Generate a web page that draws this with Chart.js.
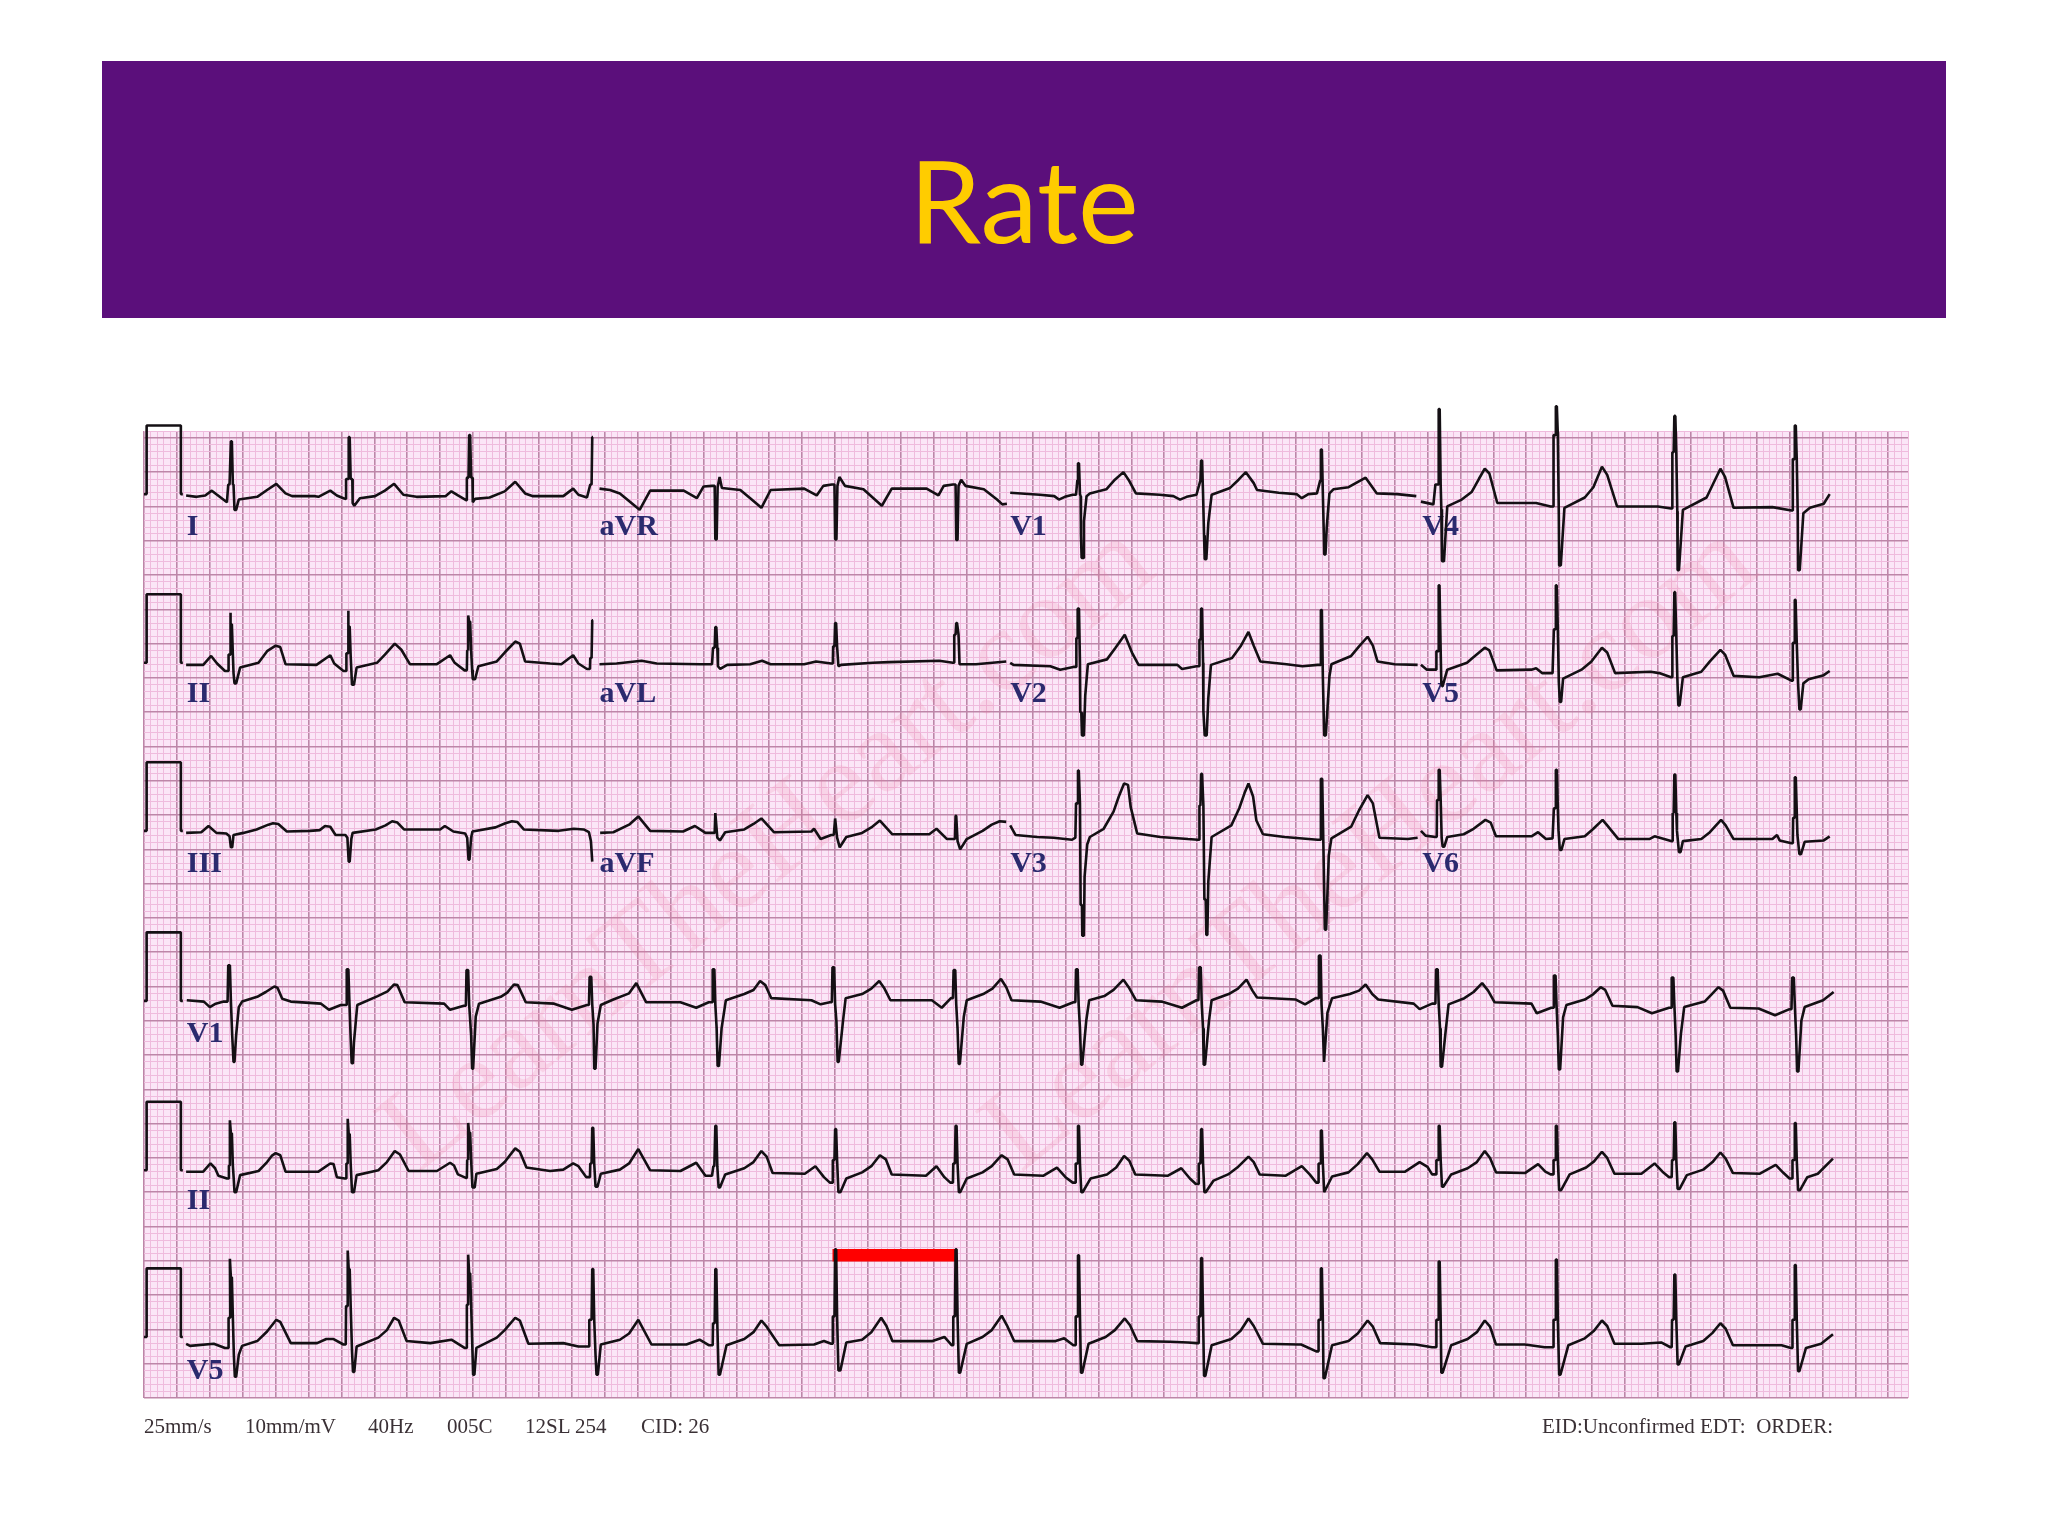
<!DOCTYPE html>
<html><head><meta charset="utf-8">
<script src="https://cdn.jsdelivr.net/npm/chart.js@4"></script>
<style>
html,body{margin:0;padding:0;background:#fff;width:2048px;height:1536px;overflow:hidden}
#band{position:absolute;left:102px;top:61px;width:1844px;height:257px;background:#5b0f7b}
#title{position:absolute;left:102px;width:1844px;top:131px;text-align:center;font:115px/134px Lato,sans-serif;color:#ffcc00}
#chart{position:absolute;left:0;top:0;filter:blur(.45px)}
.ft{position:absolute;top:1414px;font:21px/24px "Liberation Serif",serif;color:#3a3035;white-space:pre}
</style></head><body>
<div id="band"></div><div id="title">Rate</div>
<canvas id="chart" width="2048" height="1536"></canvas>
<div class="ft" style="left:144px">25mm/s</div><div class="ft" style="left:245px">10mm/mV</div><div class="ft" style="left:368px">40Hz</div><div class="ft" style="left:447px">005C</div><div class="ft" style="left:525px">12SL 254</div><div class="ft" style="left:641px">CID: 26</div><div class="ft" style="left:1542px">EID:Unconfirmed EDT:  ORDER:</div>
<script>
// Paper units: millimetres (1 mm = 40 ms horizontally, 0.1 mV vertically).
// Every beat: [R time, dt,amplitude, dt,amplitude, ...] in mm.
const leadI=[
[13.2,-6.8,-.2,-5.2,-.4,-3.9,-.2,-2.9,.5,-2.1,-.1,-.6,-1.2,-.4,1.4,-.2,1.4,0,7.7,.15,7.7,.3,1.4,.4,1.4,.55,-2.3,.8,-2.3,1.2,-.8,4,-.4,5.5,.6,6.9,1.5,8.3,.1,9.3,-.3,12.8,-.3],
[31.1,-4.6,-.4,-2.8,.5,-1.8,-.2,-.8,-.6,-.4,-.7,-.4,2.2,-.1,2.2,0,8.3,.15,8.3,.3,2.2,.55,2.2,.6,-1.3,.85,-1.7,1.7,-.6,4,-.3,5.5,.5,6.9,1.5,8.3,-.1,10.3,-.4,14.7,-.3],
[49.4,-2.7,.4,-1.7,-.2,-.6,-.8,-.4,-.9,-.35,2.4,-.1,2.4,0,8.6,.15,8.6,.3,2.4,.5,2.4,.55,-1.2,.9,-.7,3.1,-.5,5.4,.4,7,1.8,8.5,.1,9.7,-.3,14.3,-.3],
[68.1,-2.9,.8,-2.1,-.1,-.8,-.5,-.3,1.4,-.1,1.4,0,8.3,.12,8.3]];
const leadAVR=[
[86.8,-17.6,.8,-16,.6,-14.5,.1,-11.5,-2.3,-9.9,.5,-4.8,.5,-2.8,-.6,-1.8,1.1,-.5,1.2,-.1,1.2,0,-6.6,.2,-6.6,.35,1,.65,2.5,1,.9,3.8,.6,5.3,-.6,7,-2,8.4,.6,13.5,.8],
[105,-2.8,-.2,-1.8,1.2,-.5,1.4,-.1,1.4,0,-6.6,.2,-6.6,.35,1.2,.65,2.5,1.5,1.2,4.3,.7,7.1,-1.7,8.6,.8,13.9,.8],
[123.4,-2.7,-.2,-1.9,1.2,-.5,1.4,-.1,1.4,0,-6.7,.2,-6.7,.35,1.2,.75,2.1,1.4,1.2,4.2,.7,6.2,-.8,7,-1.5,7.7,-1.4]];
const leadV1=[
[141.9,-10.3,.2,-5.8,-.1,-3.6,-.3,-2.9,-.8,-2,-.4,-.8,-.1,-.3,-.1,-.1,2,0,4.5,.15,4.5,.3,0,.4,-.3,.45,-6,.55,-9.3,.8,-9.3,.9,-4,1.3,-.3,1.8,.1,4.3,.7,5.6,2.1,6.9,3.2,7.8,1.9,8.8,.1,12.4,-.1],
[160.6,-4.2,-.3,-3.2,-.8,-2.2,-.4,-.7,-.1,-.1,2,0,4.9,.15,4.9,.3,0,.45,-6,.55,-9.5,.8,-9.5,1.1,-4.2,1.6,-.1,4.4,.9,5.7,2.1,6.8,3.2,8,1.6,8.5,.6,11.8,.2],
[178.8,-3.7,0,-2.9,-.6,-1.9,0,-.6,.1,-.1,2,0,6.5,.15,6.5,.3,.1,.45,-6,.5,-8.8,.7,-8.8,.9,-4.7,1.3,.1,1.9,.7,4.2,1,6.8,2.4,8.5,.1,11.6,0,14.5,-.3]];
const leadV4=[
[196.7,-2.7,-1.1,-.8,-1.5,-.5,1.4,-.1,1.4,0,12.4,.15,12.4,.3,1.4,.4,-2.2,.5,-9.8,.8,-9.8,1.3,-1.8,3.5,-.8,5,.3,6.1,2.2,7,3.7,7.7,3,8.9,-1.3,14.8,-1.3],
[214.5,-.8,-1.8,-.4,-1.8,-.35,8.6,-.1,8.6,0,12.8,.15,12.8,.3,8.6,.45,-3,.5,-10.4,.75,-10.4,1.3,-2,4.4,-.5,5.7,1,7,4,7.8,2.8,9.3,-1.8,15.5,-1.8],
[232.5,-.5,-2.1,-.35,-2.1,-.3,6.1,-.1,6.1,0,11.4,.15,11.4,.3,6,.45,-2.5,.5,-11.1,.7,-11.1,1.3,-2.3,4.9,-.5,5.9,1.5,7,3.7,7.7,2.5,9,-2,14.9,-1.9],
[250.8,-.5,-2.4,-.35,-2.4,-.3,5.1,-.1,5.1,0,10,.15,10,.3,5,.45,-3,.5,-11.1,.75,-11.1,1.3,-2.8,2.3,-2,4.4,-1.4,5.3,0]];
const leadII=[
[13.2,-6.8,-.3,-4.2,-.3,-3,1,-2.1,-.1,-.9,-1.2,-.4,-1.2,-.35,1.2,-.1,1.2,-.1,7.3,0,5.6,.15,5.6,.3,1.2,.4,-1.5,.55,-3,.8,-3,1.4,-.7,4.2,0,5.5,1.7,6.8,2.5,7.5,2.3,8.3,-.2,13,-.3],
[31.1,-2.8,1.1,-2.2,-.1,-.8,-1.2,-.4,-1.2,-.35,1.4,-.1,1.4,-.1,7.6,0,5.3,.15,5.3,.3,1,.5,-3.2,.8,-3.2,1.2,-.7,4.3,0,5.5,1.2,7,2.8,8,1.9,9.3,-.2,13.4,-.2],
[49.4,-2.9,1.1,-2.2,0,-.7,-1.1,-.35,-1.1,-.3,1.8,-.1,1.8,-.15,6.9,0,6,.15,6,.3,1.8,.45,-1,.55,-2.4,.9,-2.4,1.4,-.5,4.2,.2,5.4,1.5,7,3.1,7.7,2.8,8.5,.2,12.3,-.1],
[68.1,-4.7,-.2,-2.9,1.1,-2.1,-.1,-.8,-.9,-.35,-.9,-.3,.7,-.1,.7,0,6.2,.12,6.2]];
const leadAVL=[
[86.8,-17.6,-.2,-15,-.1,-11.2,.3,-8.9,-.1,-2.3,-.2,-.5,-.2,-.35,2.2,-.1,2.2,0,5.2,.15,5.2,.3,2.2,.4,-.5,.75,-.9,1.8,-.3,5.3,-.2,7.1,.3,8.4,-.2,13.5,-.2],
[105,-2.9,.2,-.6,-.1,-.35,-.1,-.3,2.4,-.1,2.4,0,5.8,.15,5.8,.3,2.4,.5,-.5,.9,-.3,5.7,0,8.2,.1,15.8,.3],
[123.4,-.5,0,-.3,0,-.3,4.1,-.1,4.1,0,5.8,.12,5.8,.35,4.1,.5,-.2,3,-.2,7.6,.2]];
const leadV2=[
[141.9,-10.3,0,-9.8,-.3,-4.2,-.5,-2.7,-1,-.7,-.6,-.3,-.6,-.25,3.6,-.1,3.6,-.05,7.9,.15,7.9,.3,0,.35,-7.2,.5,-7.2,.6,-10.6,.9,-10.6,1.1,-4.8,1.5,-.2,4.4,.5,5.7,2.2,7.1,4.1,8.2,1.5,9.2,-.3,15.1,-.3],
[160.6,-2.9,-.9,-.7,-.5,-.3,-.5,-.25,3.4,-.05,3.4,0,7.9,.15,7.9,.3,0,.35,-7,.55,-10.6,.85,-10.6,1.1,-5.1,1.5,-.3,4.7,.7,6,2.4,7.2,4.5,8,2.5,9,.2,13,-.2],
[178.8,-2.8,-.5,-.5,-.3,-.1,-.3,0,7.7,.15,7.7,.3,-2,.5,-10.6,.75,-10.6,1.3,-2,1.6,-.2,4.6,1,5.8,2.4,7.1,3.8,7.9,2.5,8.6,.2,11.2,-.2,14.7,-.3]];
const leadV5=[
[196.7,-2.7,-.3,-1.8,-1,-.8,-1,-.4,-1,-.35,1.7,-.1,1.7,0,11.3,.12,11.3,.3,1.7,.4,-3,.5,-3.4,.6,-3.4,1.3,-1,4.3,0,5,.6,7,2.2,7.7,1.8,8.8,-1.1,14.1,-1,14.8,-.8],
[214.5,-2.1,-1.5,-.5,-1.5,-.3,4.9,-.1,4.9,0,11.3,.12,11.3,.3,4.9,.45,-2.8,.6,-5.7,.8,-5.7,1.1,-2.3,3.9,-1,5.4,.2,7,2.2,7.8,1.5,9,-1.5,14.4,-1.3],
[232.5,-2.3,-1.5,-.5,-2.1,-.3,-2.1,-.3,3.9,-.1,3.9,0,10.3,.12,10.3,.3,3.9,.45,-2,.6,-6.2,.8,-6.2,1.3,-2.1,4.1,-1.3,5.4,.2,7,1.9,7.7,1.2,9,-1.9,12.9,-2.1],
[250.8,-2.6,-1.6,-.5,-2.6,-.3,-2.6,-.3,2.9,-.1,2.9,0,9.2,.12,9.2,.3,2.9,.5,-3,.7,-6.8,.9,-6.8,1.3,-3,2.1,-2.4,4.4,-1.8,5.3,-1.2]];
const leadIII=[
[13.2,-6.8,-.3,-4.5,-.2,-3.4,.7,-2.2,-.3,-.7,-.4,-.2,-.8,0,-2.4,.2,-2.4,.4,-.6,1.9,-.3,3.9,.2,5.7,.9,6.4,1.1,7.2,1,8.5,-.1,12,0],
[31.1,-4.4,.1,-3.6,.7,-2.8,.6,-2,-.6,-.5,-.6,-.2,-1,0,-4.5,.15,-4.5,.4,-1.2,.6,-.3,4.1,.2,5.6,.8,6.6,1.4,7.4,1.2,8.4,.2,11.7,.2],
[49.3,-4.3,.2,-3.6,.7,-2.3,-.1,-.5,-.4,-.2,-1,0,-4.2,.15,-4.2,.4,-1,.6,-.1,4.1,.5,5.6,1.1,6.6,1.4,7.4,1.3,8.4,.2,13.7,0],
[68.1,-2.8,.3,-1.3,.2,-.5,-.2,-.2,-1.5,0,-4.5]];
const leadAVF=[
[86.8,-17.5,-.3,-15.5,-.2,-13.1,.9,-11.7,2.1,-9.9,0,-4.9,-.1,-3.1,.7,-1.5,-.3,-.5,-.3,-.1,-.3,0,2.6,.1,2.6,.3,-1,.7,-1.4,1.5,-.2,4.4,.2,5.8,1,7,1.8,8.9,-.2,14.6,-.1],
[105,-3.2,.3,-2.2,-1.2,-.6,-.6,-.2,-.6,0,1.8,.1,1.8,.3,-1,.7,-2.4,1.7,-.9,4.1,-.3,5.5,.5,6.8,1.5,8.7,-.5,14.3,-.5],
[123.3,-2.9,.3,-1.3,-1.2,-.6,-1.2,-.1,-1.2,0,2.2,.1,2.2,.3,-1.5,.7,-2.7,1.7,-1.2,4.1,0,5.5,.9,6.7,1.4,7.7,1.3]];
const leadV3=[
[141.9,-10.3,.8,-9.5,-.6,-6.2,-.9,-3.7,-1,-.9,-1.3,-.4,-1,-.3,4,-.1,4,0,8.8,.12,8.8,.3,4,.4,-10.8,.6,-10.8,.65,-15.3,.9,-15.3,1,-6.7,1.4,-2,1.8,-.9,3.9,.3,5.4,2.8,6.2,5,7,6.9,7.6,6.7,8,3.5,9,-.4,12.5,-.9],
[160.6,-2,-1.2,-.5,-1.3,-.3,-1.3,-.25,3.7,-.1,3.7,0,8.3,.15,8.3,.35,3.7,.5,-10,.7,-10,.8,-15.2,.95,-15.2,1.1,-7.4,1.6,-.9,4.6,.8,5.8,3.3,6.6,5.5,7.2,6.9,7.9,5,8.4,1.5,9.4,-.5,12.7,-.9],
[178.8,-.5,-1.3,-.1,-1.3,0,7.6,.2,7.6,.4,-3,.6,-14.4,.8,-14.4,1.2,-3.6,1.6,-1.1,4.6,.6,5.8,3,7.1,5.2,7.9,4,8.9,-1,13.2,-1.2,14.7,-1]];
const leadV6=[
[196.7,-2.7,0,-2,-.7,-.5,-.9,-.3,-.9,-.25,4.5,-.1,4.5,0,8.9,.15,8.9,.3,4.5,.45,-1,.6,-2.3,.85,-2.3,1.3,-.9,3.8,-.5,5.3,.3,7.1,1.6,7.9,1.2,8.7,-.8,14.1,-.8,15.1,-.2],
[214.5,-1.5,-1.2,-.5,-1.1,-.3,3.3,-.1,3.3,0,8.9,.15,8.9,.3,3.3,.4,.1,.6,-2.8,.85,-2.8,1.3,-1.2,4.4,-.8,5.7,.3,7.1,1.6,7.8,.8,9.5,-1.2,14.2,-1.2,15,-.8],
[232.5,-.5,-1.5,-.3,-1.5,-.25,2.6,-.1,2.6,0,8.2,.15,8.2,.3,2.6,.4,0,.7,-3.1,.95,-3.1,1.3,-1.5,4.1,-1.2,5.4,-.2,7.1,1.6,7.8,.8,9,-1.2,14.9,-1.2,15.6,-.6],
[250.8,-2.3,-1.4,-.5,-1.8,-.3,-1.8,-.25,1.9,-.1,1.9,0,7.8,.15,7.8,.4,-.6,.7,-3.4,.95,-3.4,1.5,-1.6,4.4,-1.4,5.3,-.8]];
const rhythmV1=[
[12.9,-6.4,.1,-3.8,-.1,-2.9,-.9,-2,-.4,-.8,-.1,-.2,-.1,-.1,5.2,.15,5.2,.3,0,.5,-5,.7,-8.9,.85,-8.9,1.1,-5,1.5,-.9,2,-.1,4.3,.6,5.6,1.3,6.9,2.1,7.4,1.9,8.1,.3,9.4,-.1,14,-.4],
[30.9,-2.8,-1.3,-1,-.6,-.2,-.6,-.1,4.6,.15,4.6,.3,0,.5,-5.5,.65,-9.1,.85,-9.1,1,-6,1.5,-.6,4.6,.7,6.1,1.4,7.1,2.4,7.6,2.3,8.7,-.2,14.7,-.4],
[49.1,-2.6,-1.3,-.5,-.7,-.2,-.7,-.1,4.5,.15,4.5,.3,-.5,.6,-5,.75,-9.9,.9,-9.9,1.3,-2.3,1.8,-.4,5.1,.6,6.1,1.2,7.1,2.4,7.7,2.3,8.9,-.2,13.2,-.4],
[67.8,-2.8,-1.3,-.5,-.6,-.2,-.6,-.1,3.5,.15,3.5,.3,-.5,.5,-3.5,.6,-9.9,.8,-9.9,1.1,-3.3,1.6,-.6],
[86.5,-15.2,.2,-12.8,1.1,-11.7,2.6,-10.2,-.2,-5,-.2,-2.6,-1,-.7,-.2,-.2,-.2,-.1,4.6,.15,4.6,.3,-.5,.5,-4,.65,-9.5,.85,-9.5,1.25,-4,1.9,.1,4.7,1,6.1,1.6,7.1,2.9,7.9,2.3,8.8,.4,14.9,.1],
[104.7,-1.9,-.5,-.5,-.2,-.2,-.2,-.1,4.9,.15,4.9,.3,-.5,.5,-3,.68,-8.9,.85,-8.9,1.5,-2.9,1.9,.4,4.4,1,5.8,1.8,7,2.9,7.8,1.8,8.7,.1,15,.1],
[123.1,-1.9,-1,-.5,.4,-.2,.4,-.1,4.5,.15,4.5,.3,-.5,.5,-4,.68,-9.2,.85,-9.2,1.45,-2.3,1.9,.1,4.4,1,5.8,1.8,7.1,3.2,7.9,2,8.7,.1,13.1,-.1],
[141.7,-2.6,-1,-.5,-.2,-.2,-.2,-.1,4.6,.15,4.6,.3,-.5,.5,-4,.68,-9.3,.85,-9.3,1.45,-2.9,1.9,.1,4.2,.7,5.6,1.6,7.1,3.1,7.9,2,9,.1,12.9,-.1],
[160.4,-2.7,-1,-.5,.1,-.2,.1,-.1,4.9,.15,4.9,.3,-.5,.5,-4,.6,-9.3,.8,-9.3,1.4,-2.9,1.8,.1,4.4,1,5.8,1.8,7.1,3.1,8,1.5,8.7,.5,14.6,.2],
[178.6,-2.2,-.5,-.6,.4,-.2,.4,-.1,6.6,.15,6.6,.3,-.5,.5,-4,.68,-8.9,.8,-8.9,1.2,-1.7,1.9,.4,4.6,1,6,1.5,7,2.4,8,1,8.9,.2,14.3,-.4],
[196.4,-2.6,-1.2,-.7,-.4,-.2,-.4,-.1,4.6,.15,4.6,.3,-.5,.5,-4,.6,-9.6,.8,-9.6,1.3,-4.9,1.8,-.5,4.2,.4,5.6,1.3,6.9,2.6,7.8,1.5,8.8,-.2,14.4,-.4],
[214.3,-2.7,-1.8,-.5,-1,-.2,-1,-.1,3.7,.15,3.7,.3,-.5,.5,-5,.65,-10,.85,-10,1.3,-2.4,1.8,-.6,4.6,.2,5.9,1,7,2,7.7,1.6,8.8,-.7,12.6,-.9],
[232.2,-3.1,-1.8,-.5,-1,-.2,-1,-.1,3.4,.15,3.4,.3,-.5,.5,-5,.65,-10.3,.85,-10.3,1.3,-4.8,1.8,-.9,4.9,-.1,6,1,7,2,7.7,1.5,8.8,-1,13.1,-1.1],
[250.5,-2.7,-2.1,-.5,-1.2,-.2,-1.2,-.1,3.4,.15,3.4,.3,-.5,.5,-5,.65,-10.3,.85,-10.3,1.3,-2.9,1.8,-.9,4.6,.1,6.2,1.3]];
const rhythmII=[
[13.2,-6.8,-.2,-4.2,-.2,-3.1,1,-2.4,.3,-1.9,-.8,-.6,-1.2,-.35,-1.2,-.3,.7,-.15,.7,-.15,7.3,0,5.4,.15,5.4,.3,.7,.45,-1.5,.55,-3.2,.8,-3.2,1.4,-.7,4.2,-.1,5.5,1.2,6.2,2.1,6.8,2.5,7.5,2.2,8.3,-.2,13.3,-.2],
[31.1,-2.8,1,-2.3,.9,-1.8,-1,-.6,-1.2,-.4,-1.2,-.35,1,-.15,1,-.15,7.5,0,5.3,.15,5.3,.3,1,.5,-3.2,.8,-3.2,1.2,-.7,4.5,0,5.8,1.2,7,2.8,7.8,2.3,9.1,-.1,13.4,-.1],
[49.4,-2.9,1.1,-2.3,.7,-1.7,-.6,-.5,-1.1,-.35,-1.1,-.3,1.5,-.1,1.5,-.15,6.9,0,5.5,.15,5.5,.3,1.5,.5,-2.5,.85,-2.5,1.1,-.5,4.2,.2,5.4,1.2,7,3.2,7.7,2.7,8.7,.4,12.3,-.1],
[68.1,-4.4,.1,-2.9,1,-2.1,.6,-.9,-1,-.35,-1,-.3,1,-.1,1,0,6.2,.15,6.2,.3,1,.5,-2.4,.8,-2.4,1.3,-.5,4.2,.1],
[86.8,-13.1,1,-11.7,3.1,-9.9,0,-5.3,-.1,-2.9,1.1,-1.5,-.8,-.5,-.8,-.3,.6,-.15,.6,0,6.5,.15,6.5,.3,.6,.5,-2.5,.7,-2.5,1.5,-.6,4.4,.3,5.8,1.2,7,2.8,7.8,2,8.7,-.4,13.6,-.5],
[105,-3,.6,-1.7,-1,-.8,-1.8,-.4,-1.8,-.35,1.5,-.1,1.5,0,6,.15,6,.3,1.5,.5,-3.2,.8,-3.2,1.7,-1.2,4.1,-.3,5.5,.6,6.8,2.2,7.7,1.6,8.6,-.6,13.8,-.8],
[123.3,-2.9,.6,-1.7,-1,-.8,-1.8,-.4,-1.8,-.35,1,-.1,1,0,6.5,.15,6.5,.3,1,.5,-3.2,.7,-3.2,1.7,-1.2,4.1,-.3,5.5,.6,7,2.2,7.9,1.6,8.9,-.6,13.3,-.8],
[141.9,-3.2,.4,-1.9,-1,-.8,-1.8,-.4,-1.8,-.35,1,-.1,1,0,6.5,.15,6.5,.3,1,.5,-3.2,.7,-3.2,1.9,-1.2,4.4,-.6,5.8,.4,7,2.1,7.8,1.4,8.7,-.6,13.6,-.8],
[160.6,-3,.3,-1.7,-1.2,-.8,-2,-.4,-2,-.35,1,-.1,1,0,6,.15,6,.3,1,.5,-3.2,.7,-3.2,1.9,-1.5,4.1,-.6,5.5,.4,7.2,2,8,1.2,8.9,-.6,12.8,-.8],
[178.8,-2.9,.6,-1.7,-.6,-.7,-1.8,-.4,-1.8,-.35,1,-.1,1,0,5.8,.15,5.8,.3,1,.5,-3.2,.6,-3.2,1.7,-.9,4.2,-.3,5.6,.9,7,2.5,7.8,1.6,8.9,-.2,12.8,-.2],
[196.7,-2.9,1.2,-1.7,.5,-1,-.6,-.4,-.6,-.35,1.5,-.1,1.5,0,6.5,.15,6.5,.3,1.5,.5,-2.4,.7,-2.4,1.9,-.6,4.4,.3,5.8,1.2,7,2.8,7.8,1.8,8.7,-.3,13.1,-.4],
[214.5,-2.7,.9,-1.6,-.2,-.8,-.6,-.4,-.6,-.35,1.5,-.1,1.5,0,6.5,.15,6.5,.3,1.5,.5,-2.9,.8,-2.9,2.1,-.6,4.6,.4,5.8,1.3,7,2.7,7.8,1.8,8.9,-.5,13,-.5],
[232.5,-3,1,-1.8,-.2,-.8,-1,-.4,-1,-.35,1.5,-.1,1.5,0,7,.15,7,.3,1.5,.5,-2.7,.8,-2.7,1.9,-.7,4.4,.1,5.8,1.2,7,2.6,7.8,1.7,8.9,-.4,13,-.5],
[250.8,-2.9,.8,-1.7,-.4,-.8,-1.2,-.4,-1.2,-.35,1.5,-.1,1.5,0,6.9,.15,6.9,.3,1.5,.5,-2.9,.8,-2.9,1.9,-1,3.5,-.5,5.8,1.7]];
const rhythmV5=[
[13.2,-6.8,-1,-6.2,-1.3,-2.6,-1,-.9,-1.6,-.4,-1.6,-.35,2.8,-.1,2.8,-.15,11.4,0,8.7,.15,8.7,.3,2.8,.45,-2.6,.6,-5.8,.8,-5.8,1.2,-2.6,1.7,-1.3,4,-.6,5.5,.8,6.9,2.5,7.5,2.2,9.1,-.9,13.1,-.9],
[31.1,-3.4,-.3,-2.3,-.3,-.8,-1.1,-.45,-1.1,-.4,4.5,-.15,4.5,-.15,12.6,0,9.9,.15,9.9,.3,4.5,.5,-2,.65,-5.1,.85,-5.1,1.2,-1.4,4.5,-.1,5.8,1,6.9,2.8,7.6,2.4,8.8,-.6,12.4,-.9],
[49.4,-2.7,-.4,-.7,-1.6,-.4,-1.6,-.35,4.7,-.15,4.7,-.15,12,0,9.3,.15,9.3,.3,4.7,.5,-2,.6,-5.5,.8,-5.5,1.1,-1.6,4.2,-.1,5.4,1,7,2.8,7.7,2.4,9,-1,14.3,-.9],
[68.1,-2.1,-1.4,-.45,-1.4,-.45,2.5,-.1,2.5,0,9.9,.15,9.9,.3,2.5,.5,-2.6,.65,-5.5,.85,-5.5,1.3,-1.1,4.2,-.4],
[86.8,-13.1,.5,-11.7,2.5,-9.7,-1.1,-4.4,-1.1,-2.4,-.4,-1,-1.2,-.4,-1.2,-.35,2,-.1,2,0,9.9,.15,9.9,.3,2,.5,-5.5,.7,-5.5,1.7,-1.2,4.4,-.3,5.8,.7,7,2.4,7.8,1.5,9.7,-1.2,15,-1.1],
[105,-1.7,-.6,-.6,-1,-.35,-1,-.35,3,-.1,3,0,12.8,.15,12.8,.3,3,.5,-4.9,.8,-4.9,1.7,-.8,4.1,-.4,5.5,.7,7,2.8,7.8,1.6,8.7,-.6,14.8,-.6],
[123.3,-1.7,0,-.6,-1.2,-.35,-1.2,-.35,3,-.1,3,0,12.8,.15,12.8,.3,3,.5,-5.2,.7,-5.2,1.7,-1,4.1,0,5.5,1,7,3.1,7.8,1.7,8.9,-.6,15.2,-.6],
[141.9,-2.1,-.2,-.7,-1.2,-.35,-1.2,-.35,3,-.1,3,0,11.9,.15,11.9,.3,3,.45,-5.2,.65,-5.2,1.6,-1,4.2,0,5.6,1,7.1,2.7,7.9,1.7,9,-.6,14,-.7],
[160.6,-2,-.8,-.7,-.9,-.35,-.9,-.35,3,-.1,3,0,11.5,.15,11.5,.3,3,.45,-5.7,.65,-5.7,1.6,-1.2,4.6,-.3,6,.9,7.2,2.7,8,1.6,9.4,-1,14.8,-1.1],
[178.8,-3,-1.1,-.7,-2.1,-.35,-2.1,-.35,2.5,-.1,2.5,0,10,.15,10,.3,2.5,.4,-6,.6,-6,1.7,-1.2,4.2,-.6,5.6,.5,7.1,2.4,7.9,1.5,9,-.9,14.4,-1.1],
[196.7,-1,-1.5,-.4,-1.5,-.35,2.5,-.1,2.5,0,11,.15,11,.3,2.5,.4,-5.2,.6,-5.2,1.9,-1.2,4.4,-.3,5.8,.7,7,2.4,7.8,1.5,8.7,-1.1,13.1,-1.1],
[214.5,-1.7,-1.5,-.4,-1.5,-.35,2.5,-.1,2.5,0,11.3,.15,11.3,.3,2.5,.5,-5.5,.7,-5.5,1.9,-1.2,4.4,-.2,5.8,.9,7,2.4,7.8,1.6,8.9,-1,13,-1],
[232.5,-2,-.8,-.6,-1.5,-.4,-1.5,-.35,2.5,-.1,2.5,0,9.1,.15,9.1,.3,2.5,.5,-4,.7,-4,1.7,-1.4,4.4,-.6,5.8,.6,7,2,7.8,1.2,8.9,-1.2,13,-1.2],
[250.8,-2,-1.2,-.6,-1.6,-.4,-1.6,-.35,2.5,-.1,2.5,0,10.5,.15,10.5,.3,2.5,.5,-5,.7,-5,1.7,-1.6,4,-1,5.8,.4]];
const calibration=[0,0,.4,0,.4,10,5.6,10,5.6,0,5.9,0];
const rowBaselines=[131.8,107.2,82.7,57.9,33.2,8.9];
const rowLeads=[[leadI,leadAVR,leadV1,leadV4],[leadII,leadAVL,leadV2,leadV5],[leadIII,leadAVF,leadV3,leadV6],[rhythmV1],[rhythmII],[rhythmV5]];
const labelNames=["I","aVR","V1","V4","II","aVL","V2","V5","III","aVF","V3","V6","V1","II","V5"];
const labelTimes=[6.5,69.2,131.6,194.2,6.5,69.2,131.6,194.2,6.5,69.2,131.6,194.2,6.5,6.5,6.5];
const labelLevels=[127,127,127,127,102.6,102.6,102.6,102.6,77.8,77.8,77.8,77.8,53,28.7,3.9];
const rrMarkTimes=[104.6,123.5];
const rrMarkLevel=[20.8,20.8];
const watermarkTimes=[95,186.5];
const watermarkLevels=[80,80];

const traceStyle={showLine:true,pointRadius:0,borderColor:'#141014',borderWidth:2.6,tension:0,fill:false,clip:false,borderJoinStyle:'bevel'};
const datasets=[];
rowBaselines.forEach((base,r)=>{
  const cal=[];
  for(let i=0;i<calibration.length;i+=2)cal.push({x:calibration[i],y:base+calibration[i+1]});
  datasets.push({...traceStyle,label:'cal',data:cal});
  rowLeads[r].forEach(lead=>{
    const pts=[];
    lead.forEach(b=>{for(let i=1;i<b.length;i+=2)pts.push({x:b[0]+b[i],y:base+b[i+1]});});
    datasets.push({...traceStyle,label:'lead',data:pts});
  });
});
datasets.push({showLine:true,pointRadius:0,borderColor:'#ff0000',borderWidth:12.5,borderCapStyle:'butt',clip:false,tension:0,
  data:rrMarkTimes.map((x,i)=>({x,y:rrMarkLevel[i]}))});

const paperText={id:'paperText',beforeDatasetsDraw(c){
  const g=c.ctx,xs=c.scales.x,ys=c.scales.y;
  g.save();
  g.font='118px "Liberation Serif",serif';g.fillStyle='rgba(236,120,155,.17)';g.textAlign='center';g.textBaseline='middle';
  watermarkTimes.forEach((t,i)=>{g.save();g.translate(xs.getPixelForValue(t),ys.getPixelForValue(watermarkLevels[i]));g.rotate(-39*Math.PI/180);g.fillText('LearnTheHeart.com',0,0);g.restore();});
  g.font='bold 30px "Liberation Serif",serif';g.fillStyle='#2b2a6e';g.textAlign='left';
  labelNames.forEach((n,i)=>g.fillText(n,xs.getPixelForValue(labelTimes[i]),ys.getPixelForValue(labelLevels[i])));
  g.restore();
}};
const paperBg={id:'paperBg',beforeDraw(c){const a=c.chartArea,g=c.ctx;g.save();g.fillStyle='#fbe6f7';g.fillRect(a.left,a.top,a.width,a.height);g.restore();}};
function gridColor(ctx){return ctx.tick.value%5===0?'#bd86a8':'#efbbdd';}
function gridWidth(ctx){return ctx.tick.value%5===0?1.6:1;}
new Chart(document.getElementById('chart'),{type:'scatter',data:{datasets},plugins:[paperBg,paperText],options:{
  responsive:false,animation:false,devicePixelRatio:1,
  layout:{padding:{left:144,top:431,right:140,bottom:138}},
  plugins:{legend:{display:false},tooltip:{enabled:false},title:{display:false}},
  scales:{
    x:{type:'linear',min:0,max:268,border:{display:false},grid:{color:gridColor,lineWidth:gridWidth,drawTicks:false,z:-1},ticks:{display:false,stepSize:1,autoSkip:false,maxTicksLimit:400}},
    y:{type:'linear',min:0,max:141,border:{display:false},grid:{color:gridColor,lineWidth:gridWidth,drawTicks:false,z:-1},ticks:{display:false,stepSize:1,autoSkip:false,maxTicksLimit:400}}
  }
}});
</script></body></html>
